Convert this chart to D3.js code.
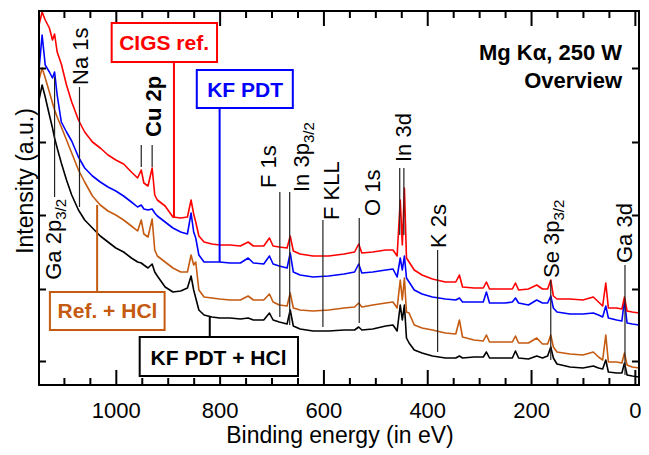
<!DOCTYPE html>
<html>
<head>
<meta charset="utf-8">
<script src="https://cdn.jsdelivr.net/npm/d3@7"></script>
<style>
  body { margin: 0; background: #fff; }
  svg text { font-family: "Liberation Sans", Arial, sans-serif; }
</style>
</head>
<body>
<div id="chart"></div>
<script>
// binding energy grid (eV), shared by the four spectra
const energy = [
  1148, 1142, 1136, 1128, 1122, 1118, 1113, 1105, 1095, 1085,
  1072, 1060, 1045, 1030, 1015, 1000, 985, 970, 958, 951,
  946, 938, 930, 925, 920, 905, 890, 875, 862, 855,
  850, 846, 840, 830, 815, 800, 780, 760, 745, 735,
  715, 704, 697, 685, 670, 664, 658, 645, 620, 590,
  560, 540, 532, 526, 505, 480, 466, 458, 452, 448,
  444, 440, 435, 425, 410, 390, 365, 345, 338, 332,
  310, 292, 286, 280, 250, 236, 230, 224, 205, 189,
  178, 168, 162, 157, 150, 125, 100, 80, 70, 62,
  56, 51, 35, 25, 20, 15, 5, -8
]

// intensities (a.u.)
const cigsRef = [
  360, 373, 365, 357, 345, 351, 333, 321, 300, 283,
  265, 253, 243, 237, 230, 225, 221, 213, 207, 215,
  202, 199, 217, 190, 185, 179, 168, 167, 168, 185,
  171, 163, 149, 143, 141, 140, 140, 139, 143, 139,
  139, 147, 139, 138, 137, 149, 134, 131, 129, 129,
  131, 133, 141, 132, 133, 135, 135, 129, 185, 140,
  197, 127, 123, 115, 110, 106, 103, 103, 110, 98,
  97, 97, 103, 96, 96, 96, 102, 95, 96, 100,
  96, 96, 105, 89, 86, 86, 85, 88, 83, 79,
  102, 77, 77, 76, 88, 74, 73, 72
]
const kfPdt = [
  315, 350, 320, 313, 307, 313, 290, 263, 253, 244,
  228, 217, 209, 203, 198, 194, 189, 183, 178, 180,
  176, 175, 176, 172, 169, 163, 157, 153, 151, 172,
  153, 147, 130, 123, 123, 123, 122, 122, 127, 122,
  121, 129, 121, 119, 117, 132, 113, 110, 108, 109,
  111, 113, 121, 112, 113, 115, 116, 108, 127, 115,
  129, 107, 103, 95, 91, 88, 86, 85, 87, 83,
  83, 83, 93, 82, 82, 83, 87, 82, 80, 85,
  82, 82, 89, 77, 73, 71, 71, 72, 70, 68,
  79, 67, 65, 64, 85, 62, 61, 60
]
const refHcl = [
  305, 317, 307, 293, 282, 275, 268, 258, 245, 232,
  215, 203, 189, 180, 174, 170, 165, 159, 154, 165,
  151, 148, 166, 135, 129, 123, 117, 113, 113, 130,
  120, 123, 95, 88, 87, 86, 85, 85, 89, 85,
  85, 91, 83, 80, 79, 92, 77, 75, 74, 75,
  77, 78, 82, 78, 80, 82, 83, 77, 105, 85,
  107, 73, 72, 60, 57, 55, 52, 51, 65, 48,
  45, 44, 50, 43, 43, 43, 49, 42, 42, 47,
  41, 41, 50, 38, 33, 31, 30, 33, 28, 25,
  50, 23, 23, 22, 32, 20, 18, 17
]
const kfPdtHcl = [
  285, 300, 288, 270, 257, 247, 237, 222, 205, 190,
  175, 165, 157, 149, 143, 137, 133, 127, 123, 122,
  120, 117, 121, 113, 109, 98, 93, 94, 97, 109,
  95, 87, 75, 70, 68, 67, 67, 66, 67, 65,
  65, 72, 65, 63, 61, 75, 59, 56, 54, 54,
  55, 55, 58, 55, 56, 59, 60, 54, 80, 65,
  80, 47, 42, 35, 32, 29, 27, 27, 29, 27,
  28, 28, 33, 27, 27, 27, 34, 27, 26, 29,
  27, 29, 38, 27, 21, 18, 17, 19, 17, 16,
  25, 13, 12, 12, 22, 10, 9, 8
]

const xMajorTicks = [0, 200, 400, 600, 800, 1000]
const xMinorTicks = [50, 100, 150, 250, 300, 350, 450, 500, 550, 650, 700, 750, 850, 900, 950, 1050, 1100]
const yTicks = [24, 96, 170, 243, 317]

const width = 649, height = 455
const margin = {top: 11, right: 10, bottom: 70, left: 39}
const w = width - margin.left - margin.right,
      h = height - margin.top - margin.bottom

const x = d3.scaleLinear().domain([1148, -8]).range([0, w])
const y = d3.scaleLinear().domain([0, 374]).range([h, 0])

const svg = d3.select("#chart")
  .append("svg")
    .attr("width", width)
    .attr("height", height)
  .append("g")
    .attr("transform", "translate(" + margin.left + "," + margin.top + ")")

svg.append("clipPath").attr("id", "clip")
  .append("rect").attr("width", w).attr("height", h)

// spectra, bottom one drawn first
const series = [
  {values: kfPdtHcl, color: "#000000"},
  {values: refHcl, color: "#c55a11"},
  {values: kfPdt, color: "#0000ff"},
  {values: cigsRef, color: "#ff0000"}
]
const line = d3.line()
  .x(d => x(d[0]))
  .y(d => y(d[1]))

series.forEach(s => {
  svg.append("path")
    .datum(energy.map((e, i) => [e, s.values[i]]))
    .attr("clip-path", "url(#clip)")
    .attr("fill", "none")
    .attr("stroke", s.color)
    .attr("stroke-width", 1.6)
    .attr("stroke-linejoin", "round")
    .attr("d", line)
})

// axes, ticks pointing inwards on all sides
function styleAxis(g) {
  g.select(".domain").remove()
  g.selectAll(".tick line").attr("stroke", "#000").attr("stroke-width", 2)
}
svg.append("g")
  .attr("transform", "translate(0," + h + ")")
  .call(d3.axisBottom(x).tickValues(xMajorTicks).tickSize(-15).tickPadding(17).tickFormat(d3.format("d")))
  .call(styleAxis)
  .selectAll("text")
    .attr("font-size", 22)
    .attr("fill", "#000")
    .style("font-family", "Liberation Sans, Arial, sans-serif")
svg.append("g")
  .attr("transform", "translate(0," + h + ")")
  .call(d3.axisBottom(x).tickValues(xMinorTicks).tickSize(-7).tickFormat(""))
  .call(styleAxis)
svg.append("g")
  .call(d3.axisTop(x).tickValues(xMajorTicks).tickSize(-15).tickFormat(""))
  .call(styleAxis)
svg.append("g")
  .call(d3.axisTop(x).tickValues(xMinorTicks).tickSize(-7).tickFormat(""))
  .call(styleAxis)
svg.append("g")
  .call(d3.axisLeft(y).tickValues(yTicks).tickSize(-7).tickFormat(""))
  .call(styleAxis)
svg.append("g")
  .attr("transform", "translate(" + w + ",0)")
  .call(d3.axisRight(y).tickValues(yTicks).tickSize(-7).tickFormat(""))
  .call(styleAxis)

svg.append("rect")
  .attr("width", w).attr("height", h)
  .attr("fill", "none").attr("stroke", "#000").attr("stroke-width", 2)

svg.append("text")
  .attr("x", 301).attr("y", h + 58)
  .attr("text-anchor", "middle")
  .attr("font-size", 23)
  .text("Binding energy (in eV)")
svg.append("text")
  .attr("transform", "translate(-6," + 170 + ") rotate(-90)")
  .attr("text-anchor", "middle")
  .attr("font-size", 23)
  .text("Intensity (a.u.)")

svg.append("text")
  .attr("x", 583).attr("y", 49)
  .attr("text-anchor", "end").attr("font-size", 22).attr("font-weight", "bold")
  .text("Mg Kα, 250 W")
svg.append("text")
  .attr("x", 583).attr("y", 77)
  .attr("text-anchor", "end").attr("font-size", 22).attr("font-weight", "bold")
  .text("Overview")

// peak assignments: leader lines at the peak energy, rotated labels
const peakLabels = [
  {text: "Ga 2p", sub: "3/2", lines: [1118], from: 308, to: 188, tx: 1106, ty: 186, anchor: "end"},
  {text: "Na 1s", lines: [1070], from: 298, to: 178, tx: 1054, ty: 300, anchor: "start"},
  {text: "Cu 2p", bold: true, lines: [951, 930], from: 240, to: 218, tx: 913, ty: 248, anchor: "start"},
  {text: "F 1s", lines: [684], from: 193, to: 68, tx: 692, ty: 197, anchor: "start"},
  {text: "In 3p", sub: "3/2", lines: [665], from: 193, to: 60, tx: 628, ty: 193, anchor: "start"},
  {text: "F KLL", lines: [601], from: 165, to: 58, tx: 570, ty: 165, anchor: "start"},
  {text: "O 1s", lines: [531], from: 167, to: 62, tx: 491, ty: 169, anchor: "start"},
  {text: "In 3d", lines: [453, 445], from: 217, to: 150, tx: 432, ty: 223, anchor: "start"},
  {text: "K 2s", lines: [380], from: 135, to: 33, tx: 364, ty: 137, anchor: "start"},
  {text: "Se 3p", sub: "3/2", lines: [162], from: 105, to: 25, tx: 146, ty: 107, anchor: "start"},
  {text: "Ga 3d", lines: [19], from: 120, to: 10, tx: 6, ty: 122, anchor: "start"}
]

peakLabels.forEach(p => {
  p.lines.forEach(e => {
    svg.append("line")
      .attr("x1", x(e)).attr("x2", x(e))
      .attr("y1", y(p.from)).attr("y2", y(p.to))
      .attr("stroke", "#222").attr("stroke-width", 1.2)
  })
  const t = svg.append("text")
    .attr("transform", "translate(" + x(p.tx) + "," + y(p.ty) + ") rotate(-90)")
    .attr("text-anchor", p.anchor)
    .attr("font-size", 22)
    .attr("font-weight", p.bold ? "bold" : "normal")
  t.append("tspan").text(p.text)
  if (p.sub)
    t.append("tspan").attr("font-size", 15).attr("dy", 5).text(p.sub)
})

// sample legend boxes
const boxes = [
  {text: "CIGS ref.", color: "#ff0000", x0: 1008, x1: 805, y0: 362, y1: 323, tx: 907, ty: 335, le: 888, lfrom: 323, lto: 167},
  {text: "KF PDT", color: "#0000ff", x0: 844, x1: 659, y0: 315, y1: 277, tx: 751, ty: 288, le: 800, lfrom: 277, lto: 123},
  {text: "Ref. + HCl", color: "#c55a11", x0: 1127, x1: 906, y0: 93, y1: 55, tx: 1016, ty: 67, le: 1036, lfrom: 93, lto: 180},
  {text: "KF PDT + HCl", color: "#000000", x0: 954, x1: 649, y0: 48, y1: 9, tx: 802, ty: 20, le: 819, lfrom: 48, lto: 68}
]

boxes.forEach(b => {
  svg.append("line")
    .attr("x1", x(b.le)).attr("x2", x(b.le))
    .attr("y1", y(b.lfrom)).attr("y2", y(b.lto))
    .attr("stroke", b.color).attr("stroke-width", 2)
  svg.append("rect")
    .attr("x", x(b.x0)).attr("y", y(b.y0))
    .attr("width", x(b.x1) - x(b.x0)).attr("height", y(b.y1) - y(b.y0))
    .attr("fill", "#fff").attr("stroke", b.color).attr("stroke-width", 2)
  svg.append("text")
    .attr("x", x(b.tx)).attr("y", y(b.ty))
    .attr("text-anchor", "middle")
    .attr("font-size", 21).attr("font-weight", "bold")
    .attr("fill", b.color)
    .text(b.text)
})
</script>
</body>
</html>
